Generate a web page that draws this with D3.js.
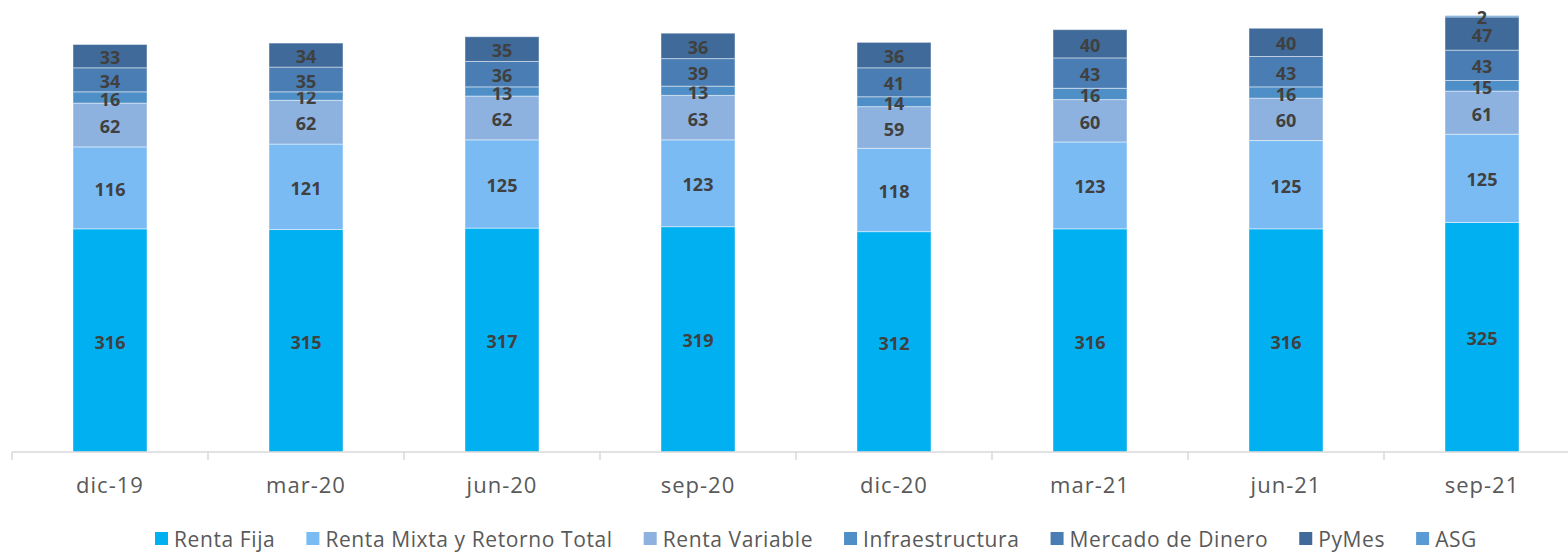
<!DOCTYPE html>
<html>
<head>
<meta charset="utf-8">
<script src="https://cdn.jsdelivr.net/npm/d3@7"></script>
<style>
	body { margin: 0; background: #fff; }
	text { font-family: "Open Sans", "DejaVu Sans", sans-serif; }
</style>
</head>
<body>
<svg id="chart" width="1568" height="552"></svg>
<script>
	// data
	var periods = ["dic-19", "mar-20", "jun-20", "sep-20", "dic-20", "mar-21", "jun-21", "sep-21"];
	var seriesNames = ["Renta Fija", "Renta Mixta y Retorno Total", "Renta Variable", "Infraestructura", "Mercado de Dinero", "PyMes", "ASG"];
	var rentaFija = [316, 315, 317, 319, 312, 316, 316, 325];
	var rentaMixta = [116, 121, 125, 123, 118, 123, 125, 125];
	var rentaVariable = [62, 62, 62, 63, 59, 60, 60, 61];
	var infraestructura = [16, 12, 13, 13, 14, 16, 16, 15];
	var mercadoDinero = [34, 35, 36, 39, 41, 43, 43, 43];
	var pymes = [33, 34, 35, 36, 36, 40, 40, 47];
	var asg = [0, 0, 0, 0, 0, 0, 0, 2];
	var colors = ["#00b0f0", "#7bbbf3", "#8db2e0", "#4f8fc8", "#4a7db3", "#3f6a99", "#5b9bd5"];

	var seriesValues = [rentaFija, rentaMixta, rentaVariable, infraestructura, mercadoDinero, pymes, asg];
	var rows = periods.map(function (p, i) {
		var r = { period: p };
		seriesNames.forEach(function (s, j) { r[s] = seriesValues[j][i]; });
		return r;
	});

	var svg = d3.select("#chart");
	var baseY = 452;

	var x = d3.scaleBand().domain(periods).range([12, 12 + 196 * 8]).paddingInner(0).paddingOuter(0);
	var y = d3.scaleLinear().domain([0, 640]).range([baseY, 0]);
	var barW = 74;

	var stack = d3.stack().keys(seriesNames)(rows);

	var layers = svg.selectAll("g.layer")
		.data(stack)
		.enter().append("g")
		.attr("class", "layer")
		.attr("fill", function (d, i) { return colors[i]; });

	layers.selectAll("rect")
		.data(function (d) { return d; })
		.enter().append("rect")
		.attr("x", function (d) { return x(d.data.period) + x.bandwidth() / 2 - barW / 2; })
		.attr("width", barW)
		.attr("y", function (d) { return y(d[1]); })
		.attr("height", function (d) { return y(d[0]) - y(d[1]); })
		.attr("stroke", "rgba(255,255,255,0.45)")
		.attr("stroke-width", 1);

	// value labels
	layers.selectAll("text")
		.data(function (d) { return d.filter(function (v) { return v[1] - v[0] > 0; }); })
		.enter().append("text")
		.attr("x", function (d) { return x(d.data.period) + x.bandwidth() / 2; })
		.attr("y", function (d) { return (y(d[0]) + y(d[1])) / 2; })
		.attr("dy", "0.45em")
		.attr("text-anchor", "middle")
		.attr("fill", "#404040")
		.attr("font-size", 18)
		.attr("font-weight", "bold")
		.text(function (d) { return d[1] - d[0]; });

	// x axis
	var axis = svg.append("g").attr("transform", "translate(0," + baseY + ")");
	axis.append("line")
		.attr("x1", 12).attr("x2", 1568)
		.attr("stroke", "#d9d9d9").attr("stroke-width", 1.5);
	axis.selectAll("line.tick")
		.data(periods)
		.enter().append("line")
		.attr("class", "tick")
		.attr("x1", function (d) { return x(d); })
		.attr("x2", function (d) { return x(d); })
		.attr("y1", 0).attr("y2", 8)
		.attr("stroke", "#d9d9d9").attr("stroke-width", 1.5);
	axis.selectAll("text")
		.data(periods)
		.enter().append("text")
		.attr("x", function (d) { return x(d) + x.bandwidth() / 2; })
		.attr("y", 33)
		.attr("dy", "0.36em")
		.attr("text-anchor", "middle")
		.attr("fill", "#595959")
		.attr("font-size", 22)
		.attr("letter-spacing", 1)
		.text(function (d) { return d; });

	// legend: measure items, then spread them over the same span as the original
	var legendLeft = 155, legendRight = 1477, swatch = 13, swatchGap = 6;
	var legend = svg.selectAll("g.legend")
		.data(seriesNames)
		.enter().append("g")
		.attr("class", "legend");
	legend.append("rect")
		.attr("y", 532)
		.attr("width", swatch).attr("height", swatch)
		.attr("fill", function (d, i) { return colors[i]; });
	legend.append("text")
		.attr("x", swatch + swatchGap)
		.attr("y", 539)
		.attr("dy", "0.36em")
		.attr("fill", "#595959")
		.attr("font-size", 21)
		.attr("letter-spacing", 0.6)
		.text(function (d) { return d; });

	var widths = [];
	legend.select("text").each(function () { widths.push(swatch + swatchGap + this.getComputedTextLength()); });
	var gap = (legendRight - legendLeft - d3.sum(widths)) / (widths.length - 1);
	var pos = legendLeft;
	legend.attr("transform", function (d, i) {
		var t = "translate(" + pos + ",0)";
		pos += widths[i] + gap;
		return t;
	});
</script>
</body>
</html>
